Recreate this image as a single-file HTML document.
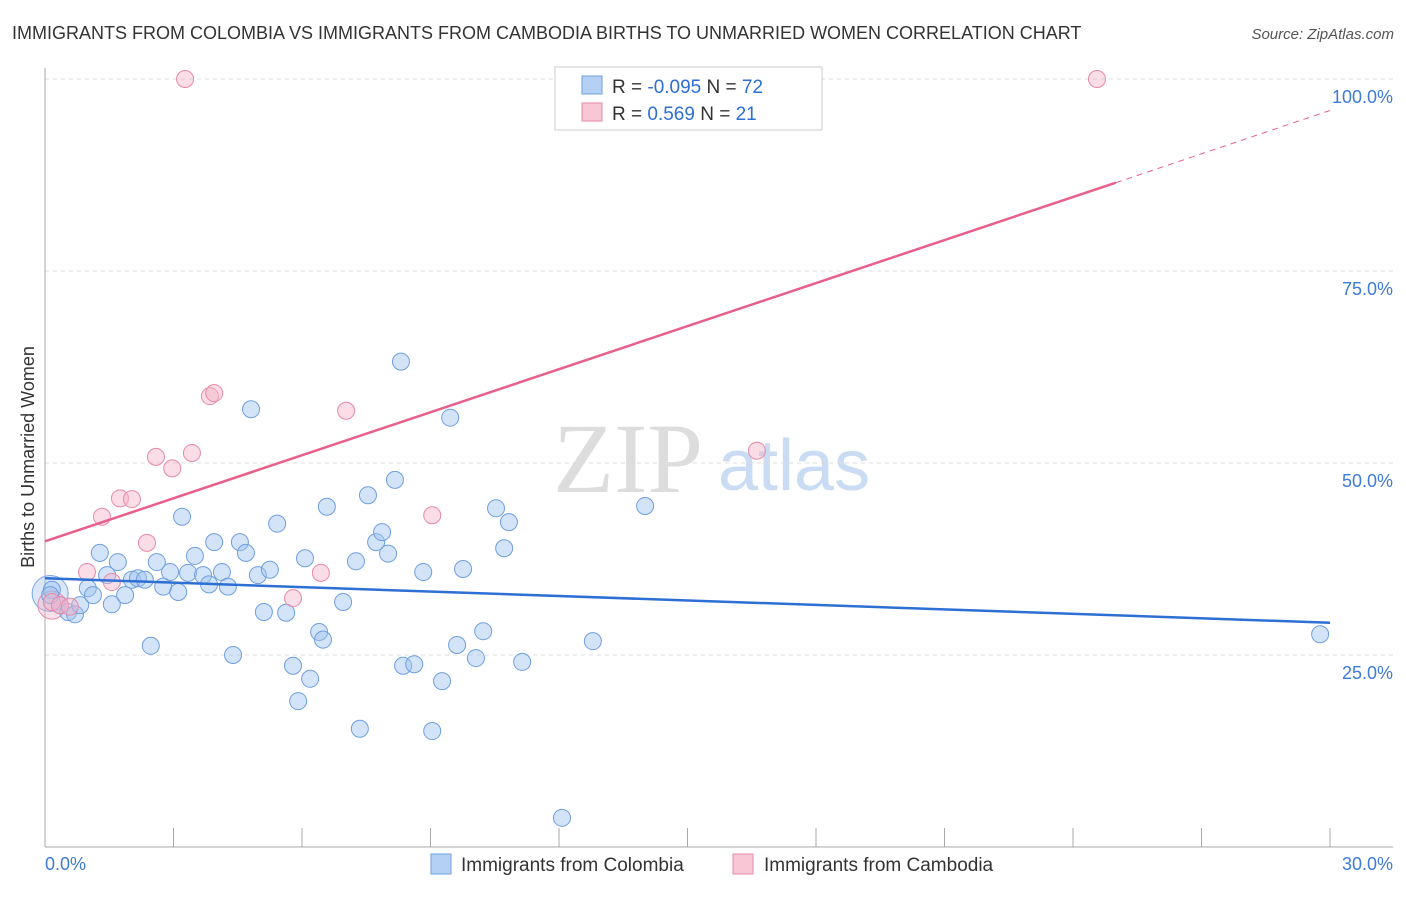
<!DOCTYPE html>
<html><head><meta charset="utf-8"><style>
body{margin:0;background:#fff;font-family:"Liberation Sans",sans-serif}
</style></head><body>
<svg id="chart" width="1406" height="892" xmlns="http://www.w3.org/2000/svg" font-family="Liberation Sans, sans-serif">
<text x="12" y="39" font-size="18" fill="#333">IMMIGRANTS FROM COLOMBIA VS IMMIGRANTS FROM CAMBODIA BIRTHS TO UNMARRIED WOMEN CORRELATION CHART</text>
<text x="1394" y="39" font-size="15" fill="#555" text-anchor="end" font-style="italic">Source: ZipAtlas.com</text>
<text x="553" y="492" font-size="100" fill="#ddd" font-family="Liberation Serif, serif">ZIP</text>
<text x="718" y="490" font-size="72" fill="#c9dcf3">atlas</text>
<g id="grid"></g>
<g id="axes"></g>
<g id="marks"></g>
<text transform="translate(34,457) rotate(-90)" font-size="18" fill="#333" text-anchor="middle">Births to Unmarried Women</text>
<g>
<rect x="555" y="67" width="267" height="63" fill="#fff" stroke="#ccc"/>
<rect x="582" y="76" width="20" height="18" fill="#b5d0f5" stroke="#6f9fe0"/>
<rect x="582" y="103" width="20" height="18" fill="#f9c6d6" stroke="#e88aa8"/>
<text x="612" y="93" font-size="19" fill="#333">R = <tspan fill="#2d6fd4">-0.095</tspan>   N = <tspan fill="#2d6fd4">72</tspan></text>
<text x="612" y="120" font-size="19" fill="#333">R =  <tspan fill="#2d6fd4"> 0.569</tspan>   N =  <tspan fill="#2d6fd4">21</tspan></text>
</g>
<g>
<rect x="431" y="854" width="20" height="20" fill="#b5d0f5" stroke="#6f9fe0"/>
<text x="461" y="871" font-size="19" fill="#333">Immigrants from Colombia</text>
<rect x="733" y="854" width="20" height="20" fill="#f9c6d6" stroke="#e88aa8"/>
<text x="764" y="871" font-size="19" fill="#333">Immigrants from Cambodia</text>
</g>
</svg>
<script>
const yTicks=[25,50,75,100];
const yTickLabels=["25.0%","50.0%","75.0%","100.0%"];
const xTickLabels=["0.0%","30.0%"];
const colX=[0.16,0.35,0.54,0.70,0.82,1.00,1.12,1.28,1.45,1.56,1.70,1.87,2.03,2.17,2.33,2.47,2.61,2.76,2.92,3.11,3.20,3.34,3.50,3.69,3.83,3.95,4.13,4.27,4.39,4.55,4.69,4.81,4.97,5.11,5.25,5.42,5.63,5.79,5.91,6.07,6.19,6.40,6.49,6.58,6.96,7.26,7.35,7.54,7.73,7.87,8.01,8.17,8.31,8.36,8.62,8.83,9.04,9.27,9.46,9.62,9.76,10.06,10.23,10.53,10.72,10.83,11.14,12.07,12.79,14.01,29.77,0.12];
const colY=[33.5,31.5,30.6,30.3,31.5,33.7,32.8,38.3,35.4,31.6,37.1,32.8,34.8,35.0,34.8,26.2,37.1,33.9,35.8,33.2,43.0,35.7,37.9,35.4,34.2,39.7,35.8,33.9,25.0,39.7,38.3,57.0,35.4,30.6,36.1,42.1,30.5,23.6,19.0,37.6,21.9,28.0,27.0,44.3,31.9,37.2,15.4,45.8,39.7,41.0,38.2,47.8,63.2,23.6,23.8,35.8,15.1,21.6,55.9,26.3,36.2,24.6,28.1,44.1,38.9,42.3,24.1,3.8,26.8,44.4,27.7,32.8];
const camX=[3.27,24.56,0.16,0.35,0.58,0.98,1.33,1.56,1.75,2.03,2.38,2.59,2.97,3.43,3.85,3.95,5.79,6.44,7.03,9.04,16.62];
const camY=[100,100,31.9,31.5,31.3,35.8,43.0,34.5,45.4,45.3,39.6,50.8,49.3,51.3,58.7,59.1,32.4,35.7,56.8,43.2,51.6];
const colTrend=[35.0,29.2];
const camTrend=[39.8,86.5,95.9];
const camTrendX=[0,25,30];
const sx=v=>45+v*(1285/30), sy=v=>847-v*7.68;
const NS="http://www.w3.org/2000/svg";
function mk(t,a,p){const e=document.createElementNS(NS,t);for(const k in a)e.setAttribute(k,a[k]);p.appendChild(e);return e;}
const grid=document.getElementById('grid'),axes=document.getElementById('axes'),marks=document.getElementById('marks');
yTicks.forEach((v,i)=>{
 const l=mk('line',{x1:45,x2:1393,y1:sy(v),y2:sy(v),stroke:'#ddd','stroke-dasharray':'4,4'},grid);
 
 
 const t=mk('text',{x:1393,y:sy(v)+24,'font-size':18,fill:'#3d7bd8','text-anchor':'end'},axes);
 t.textContent=yTickLabels[i];
 
 
});
mk('line',{x1:45,x2:45,y1:68,y2:847,stroke:'#aaa'},axes);
mk('line',{x1:45,x2:1393,y1:847,y2:847,stroke:'#aaa'},axes);
for(let i=1;i<=10;i++){const x=sx(i*3);const tk=mk('line',{x1:x,x2:x,y1:828,y2:847,stroke:'#aaa'},axes);
 
 }
const xl0=mk('text',{x:45,y:870,'font-size':18,fill:'#3d7bd8'},axes);xl0.textContent=xTickLabels[0];


const xl1=mk('text',{x:1393,y:870,'font-size':18,fill:'#3d7bd8','text-anchor':'end'},axes);xl1.textContent=xTickLabels[1];


// big overlap bubbles
const b1=mk('circle',{cx:sx(0.12),cy:sy(33.0),r:18,fill:'rgba(160,195,240,0.4)',stroke:'#7aa6e3'},marks);


const b2=mk('circle',{cx:sx(0.16),cy:sy(31.5),r:14,fill:'rgba(245,180,200,0.4)',stroke:'#e88aa8'},marks);


colX.forEach((x,i)=>{const c=mk('circle',{cx:sx(x),cy:sy(colY[i]),r:8.5,fill:'rgba(160,195,240,0.45)',stroke:'#6f9fe0','stroke-width':1},marks);
 
 });
camX.forEach((x,i)=>{const c=mk('circle',{cx:sx(x),cy:sy(camY[i]),r:8.5,fill:'rgba(245,180,200,0.45)',stroke:'#e88aa8','stroke-width':1},marks);
 
 });
const tl1=mk('line',{x1:sx(0),y1:sy(colTrend[0]),x2:sx(30),y2:sy(colTrend[1]),stroke:'#2d6fd4','stroke-width':2.5},marks);


const tl2=mk('line',{x1:sx(camTrendX[0]),y1:sy(camTrend[0]),x2:sx(camTrendX[1]),y2:sy(camTrend[1]),stroke:'#e8608a','stroke-width':2.5},marks);


const tl3=mk('line',{x1:sx(camTrendX[1]),y1:sy(camTrend[1]),x2:sx(camTrendX[2]),y2:sy(camTrend[2]),stroke:'#e8608a','stroke-width':1,'stroke-dasharray':'6,5'},marks);


</script>
</body></html>
